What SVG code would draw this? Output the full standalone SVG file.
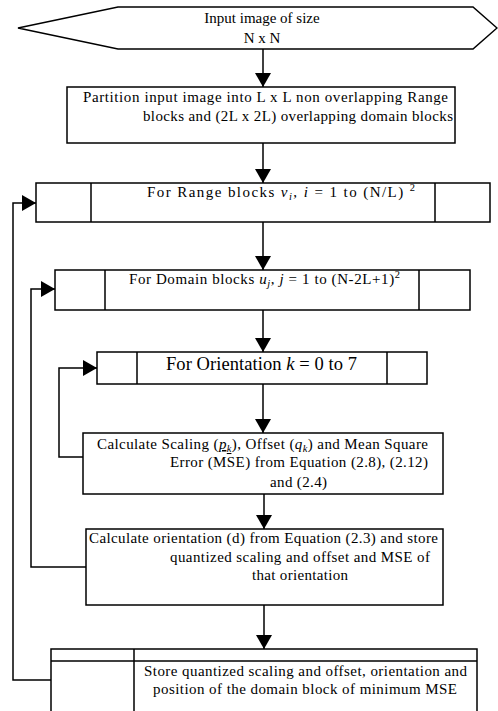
<svg xmlns="http://www.w3.org/2000/svg" width="498" height="711" viewBox="0 0 498 711">
<defs>
<marker id="ah" markerUnits="userSpaceOnUse" markerWidth="15" markerHeight="16" refX="14" refY="8" orient="auto">
<path d="M0,0 L14,8 L0,16 z" fill="#000"/>
</marker>
<style>
.s{fill:#fff;stroke:#000;stroke-width:1.5}
.d{stroke:#000;stroke-width:1.5;fill:none}
.c{fill:none;stroke:#000;stroke-width:1.5;marker-end:url(#ah)}
.t{font-family:"Liberation Serif","Times New Roman","DejaVu Serif",serif;font-size:15px;fill:#000}
.big{font-size:18.5px}
.i{font-style:italic}
.sub{font-size:10.5px}
</style>
</defs>
<rect width="498" height="711" fill="#fff"/>
<g id="connectors">
<path class="c" d="M263,49 L263,87"/>
<path class="c" d="M263,143 L263,183"/>
<path class="c" d="M263,222 L263,270"/>
<path class="c" d="M263,310 L263,352"/>
<path class="c" d="M263,384 L263,433"/>
<path class="c" d="M264,485 L264,529"/>
<path class="c" d="M264,605 L264,649"/>
<path class="c" d="M51,680 L13,680 L13,203 L36,203"/>
<path class="c" d="M86,567 L31,567 L31,289 L55,289"/>
<path class="c" d="M83,457 L59,457 L59,368 L97,368"/>
</g>
<g class="t" font-family="Liberation Serif, Times New Roman, serif">
<g id="input">
<polygon class="s" points="18,28 118,7 473,7 497,28 473,49 118,49"/>
<text x="262" y="23" text-anchor="middle">Input image of size</text>
<text x="262" y="43" text-anchor="middle">N x N</text>
</g>
<g id="partition">
<rect class="s" x="67" y="87" width="388" height="56"/>
<text x="83" y="102" textLength="365" lengthAdjust="spacing">Partition input image into L x L non overlapping Range</text>
<text x="143" y="121" textLength="310" lengthAdjust="spacing">blocks and (2L x 2L) overlapping domain blocks</text>
</g>
<g id="range">
<rect class="s" x="36" y="183" width="454" height="39"/>
<path class="d" d="M91,183 V222 M435,183 V222"/>
<text x="147" y="197" textLength="268" lengthAdjust="spacing">For Range blocks <tspan class="i">v</tspan><tspan class="i sub" dy="3">i</tspan><tspan dy="-3">, </tspan><tspan class="i">i</tspan> = 1 to (N/L) <tspan class="sub" dy="-6">2</tspan></text>
</g>
<g id="domain">
<rect class="s" x="55" y="270" width="415" height="40"/>
<path class="d" d="M105,270 V310 M419,270 V310"/>
<text x="129" y="284" textLength="271" lengthAdjust="spacing">For Domain blocks <tspan class="i">u</tspan><tspan class="i sub" dy="3">j</tspan><tspan dy="-3">, </tspan><tspan class="i">j</tspan> = 1 to (N-2L+1)<tspan class="sub" dy="-6">2</tspan></text>
</g>
<g id="orientation">
<rect class="s" x="97" y="352" width="330" height="32"/>
<path class="d" d="M137,352 V384 M387,352 V384"/>
<text class="big" x="166" y="370" textLength="191" lengthAdjust="spacing">For Orientation <tspan class="i">k</tspan> = 0 to 7</text>
</g>
<g id="calcScaling">
<rect class="s" x="83" y="433" width="360" height="61"/>
<text x="97" y="449" textLength="331" lengthAdjust="spacing">Calculate Scaling (<tspan class="i" text-decoration="underline">p</tspan><tspan class="i sub" dy="3" text-decoration="underline">k</tspan><tspan dy="-3">), Offset (</tspan><tspan class="i">q</tspan><tspan class="i sub" dy="3">k</tspan><tspan dy="-3">) and Mean Square</tspan></text>
<text x="170" y="467" textLength="258" lengthAdjust="spacing">Error (MSE) from Equation (2.8), (2.12)</text>
<text x="270" y="487" textLength="57" lengthAdjust="spacing">and (2.4)</text>
</g>
<g id="calcOrientation">
<rect class="s" x="86" y="529" width="357" height="76"/>
<text x="89" y="543" textLength="349" lengthAdjust="spacing">Calculate orientation (d) from Equation (2.3) and store</text>
<text x="170" y="562" textLength="260" lengthAdjust="spacing">quantized scaling and offset and MSE of</text>
<text x="252" y="580" textLength="96" lengthAdjust="spacing">that orientation</text>
</g>
<g id="store">
<rect class="s" x="51" y="649" width="426" height="80"/>
<path class="d" d="M51,661 H477 M134,649 V729"/>
<text x="144" y="676" textLength="323" lengthAdjust="spacing">Store quantized scaling and offset, orientation and</text>
<text x="153" y="694" textLength="304" lengthAdjust="spacing">position of the domain block of minimum MSE</text>
</g>
</g>
</svg>
